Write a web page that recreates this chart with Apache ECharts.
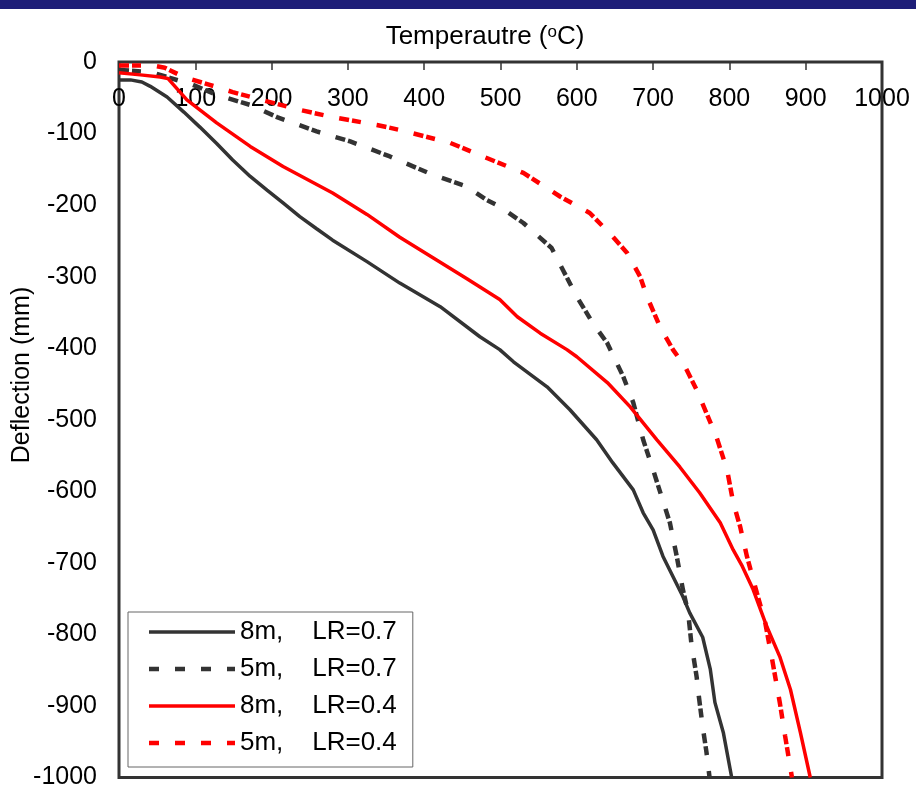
<!DOCTYPE html>
<html>
<head>
<meta charset="utf-8">
<script src="https://cdn.jsdelivr.net/npm/echarts@6/dist/echarts.min.js"></script>
<style>
html,body{margin:0;padding:0;background:#fff;}
#chart{width:916px;height:790px;}
</style>
</head>
<body>
<div id="chart"></div>
<script>
// Series names
const seriesNames = ['8m,    LR=0.7', '5m,    LR=0.7', '8m,    LR=0.4', '5m,    LR=0.4'];
// Tick settings
const xTicks = [0, 100, 200, 300, 400, 500, 600, 700, 800, 900, 1000];
const yTicks = [0, -100, -200, -300, -400, -500, -600, -700, -800, -900, -1000];

// [temperature (°C), deflection (mm)]
const s8m_07 = [[0,-25],[15,-25],[30,-28],[41,-34],[63,-49],[85,-70],[106,-91],[128,-114],[149,-137],[172,-160],[194,-179],[215,-197],[237,-216],[259,-233],[280,-249],[325,-279],[368,-309],[421,-342],[473,-384],[499,-402],[517,-419],[561,-454],[591,-486],[626,-528],[647,-560],[674,-598],[687,-630],[700,-654],[713,-691],[739,-747],[748,-770],[765,-804],[775,-849],[781,-895],[792,-937],[803,-1000]];
const s5m_07 = [[0,-11],[41,-14],[63,-21],[97,-32],[128,-46],[172,-60],[207,-77],[259,-97],[303,-111],[355,-132],[412,-158],[456,-174],[482,-193],[499,-202],[530,-225],[548,-242],[567,-260],[582,-291],[600,-328],[621,-365],[640,-393],[661,-440],[674,-476],[687,-528],[700,-570],[711,-607],[722,-644],[731,-691],[739,-737],[746,-770],[750,-811],[757,-859],[760,-887],[765,-929],[770,-965],[774,-1000]];
const s8m_04 = [[0,-15],[28,-18],[54,-21],[64,-23],[89,-53],[128,-85],[172,-118],[215,-146],[280,-183],[325,-213],[368,-245],[412,-274],[456,-303],[499,-332],[522,-356],[552,-379],[587,-402],[600,-412],[640,-448],[670,-482],[705,-528],[735,-566],[761,-602],[788,-644],[805,-682],[817,-705],[831,-737],[849,-789],[866,-831],[880,-877],[893,-937],[906,-1000]];
const s5m_04 = [[0,-5],[45,-5],[60,-8],[85,-21],[119,-32],[149,-42],[180,-51],[237,-67],[280,-77],[338,-88],[368,-95],[434,-113],[477,-132],[530,-155],[578,-188],[617,-211],[647,-244],[666,-267],[683,-300],[692,-328],[709,-370],[726,-402],[742,-426],[757,-458],[772,-496],[783,-524],[797,-570],[805,-616],[814,-649],[823,-691],[836,-742],[847,-784],[856,-835],[866,-895],[873,-942],[882,-1000]];

const FONT = 'Liberation Sans, Arial, sans-serif';
const chart = echarts.init(document.getElementById('chart'), null, {renderer:'canvas'});
const dashPlot = [10, 3, 9, 16];
const iconSolid = 'path://M0,0h86v3.5h-86z';
const iconDash = 'path://M0,0h10v4.5h-10zM26,0h10v4.5h-10zM52,0h10v4.5h-10zM78,0h8v4.5h-8z';
chart.setOption({
  animation: false,
  backgroundColor: '#fff',
  grid: {left: 119, right: 34, top: 62, bottom: 12, show: true, borderColor: '#333', borderWidth: 3, backgroundColor: 'transparent'},
  xAxis: {
    type: 'value', position: 'top', min: xTicks[0], max: xTicks[xTicks.length-1], interval: 100,
    axisLine: {show: false},
    axisTick: {show: true, inside: true, length: 8, lineStyle: {color: '#333', width: 1.5}},
    axisLabel: {inside: true, margin: 25, fontSize: 25, fontFamily: FONT, color: '#000', showMinLabel: true, showMaxLabel: true, formatter: v => String(v)},
    splitLine: {show: false}
  },
  yAxis: {
    type: 'value', min: yTicks[yTicks.length-1], max: yTicks[0], interval: 100,
    axisLine: {show: false},
    axisTick: {show: false},
    axisLabel: {margin: 22, fontSize: 25, fontFamily: FONT, color: '#000', formatter: v => String(v)},
    splitLine: {show: false}
  },
  legend: {
    orient: 'vertical', left: 128, top: 612,
    padding: [6, 16, 10, 21],
    borderColor: '#666', borderWidth: 1, backgroundColor: '#fff',
    itemWidth: 86, itemHeight: 14, itemGap: 9,
    textStyle: {fontSize: 26, fontFamily: FONT, color: '#000', lineHeight: 28},
    data: [
      {name: seriesNames[0], icon: iconSolid, itemStyle: {color: '#333333'}},
      {name: seriesNames[1], icon: iconDash, itemStyle: {color: '#333333'}},
      {name: seriesNames[2], icon: iconSolid, itemStyle: {color: '#ff0000'}},
      {name: seriesNames[3], icon: iconDash, itemStyle: {color: '#ff0000'}}
    ]
  },
  graphic: [
    {type: 'rect', shape: {x: 0, y: 0, width: 916, height: 9}, style: {fill: '#1e1e78'}, z: 100},
    {type: 'text', x: 485, y: 37, style: {
      text: '{a|Temperautre (}{s|o}{a|C)}', align: 'center', verticalAlign: 'middle',
      rich: {a: {fontSize: 26, fontFamily: FONT, fill: '#000'}, s: {fontSize: 17, fontFamily: FONT, fill: '#000', verticalAlign: 'top', padding: [0,0,10,0]}}
    }},
    {type: 'text', x: 22, y: 375, rotation: Math.PI/2, style: {
      text: 'Deflection (mm)', align: 'center', verticalAlign: 'middle', fontSize: 25, fontFamily: FONT, fill: '#000'
    }}
  ],
  series: [
    {name: seriesNames[0], type: 'line', data: s8m_07, symbol: 'none', lineStyle: {color: '#333333', width: 3.5}, itemStyle: {color: '#333333'}},
    {name: seriesNames[1], type: 'line', data: s5m_07, symbol: 'none', lineStyle: {color: '#333333', width: 4.5, type: dashPlot}, itemStyle: {color: '#333333'}},
    {name: seriesNames[2], type: 'line', data: s8m_04, symbol: 'none', lineStyle: {color: '#ff0000', width: 3.5}, itemStyle: {color: '#ff0000'}},
    {name: seriesNames[3], type: 'line', data: s5m_04, symbol: 'none', lineStyle: {color: '#ff0000', width: 4.5, type: dashPlot}, itemStyle: {color: '#ff0000'}}
  ]
});
</script>
</body>
</html>
